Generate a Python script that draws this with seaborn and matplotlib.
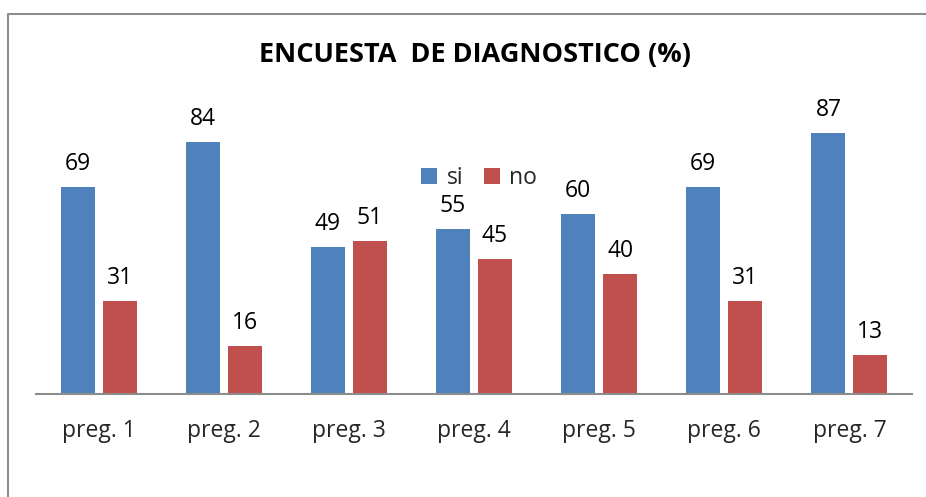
import numpy as np
import pandas as pd
import matplotlib
matplotlib.use("Agg")
import matplotlib.pyplot as plt
import seaborn as sns
from matplotlib.lines import Line2D

# data
preguntas = ["preg. 1", "preg. 2", "preg. 3", "preg. 4", "preg. 5", "preg. 6", "preg. 7"]
si = [69, 84, 49, 55, 60, 69, 87]
no = [31, 16, 51, 45, 40, 31, 13]
series = ["si", "no"]
colores = ["#4F81BD", "#C0504D"]

sns.set_theme(style="white")
plt.rcParams["font.family"] = ["Open Sans", "DejaVu Sans"]

df = pd.DataFrame({"pregunta": preguntas * 2,
                   "serie": ["si"] * len(si) + ["no"] * len(no),
                   "valor": si + no})

W, H = 926, 497
fig = plt.figure(figsize=(W / 100, H / 100), dpi=100)
fig.patch.set_linewidth(0)
ax = fig.add_axes([36 / W, (H - 394) / H, (912 - 36) / W, 300 / H])

sns.barplot(data=df, x="pregunta", y="valor", hue="serie", hue_order=series,
            palette=colores, width=0.672, gap=0.19, saturation=1, ax=ax,
            edgecolor="none")

for cont in ax.containers:
    ax.bar_label(cont, fmt="%d", padding=8, fontsize=16.5, color="#000000")

ax.set_ylim(0, 100)
ax.set_xlim(-0.5, len(preguntas) - 0.5)
ax.set_xlabel("")
ax.set_ylabel("")
ax.set_yticks([])
ax.tick_params(axis="x", length=0, labelsize=16.5, pad=18)
for s in ["top", "right", "left"]:
    ax.spines[s].set_visible(False)
ax.spines["bottom"].set_color("#8c8c8c")
ax.spines["bottom"].set_linewidth(1.5)

leg = ax.legend(loc="center", bbox_to_anchor=(479 / W, (H - 178) / H),
                bbox_transform=fig.transFigure, ncol=2, frameon=False,
                fontsize=16.5, handlelength=0.7, handleheight=0.7,
                handletextpad=0.4, columnspacing=0.9)

fig.text(475 / W, (H - 55) / H, "ENCUESTA  DE DIAGNOSTICO (%)", ha="center",
         va="center", fontsize=19.5, fontweight="bold", color="#000000")

# outer chart frame: left edge and top edge only (rest is cropped off)
x0, y0 = 7.5 / W, (H - 14) / H
fig.add_artist(Line2D([x0, x0], [0.0, y0], transform=fig.transFigure,
                      color="#8c8c8c", linewidth=1.5))
fig.add_artist(Line2D([x0, 1.0], [y0, y0], transform=fig.transFigure,
                      color="#8c8c8c", linewidth=1.5, solid_capstyle="butt"))

fig.savefig("out.png", dpi=100)
